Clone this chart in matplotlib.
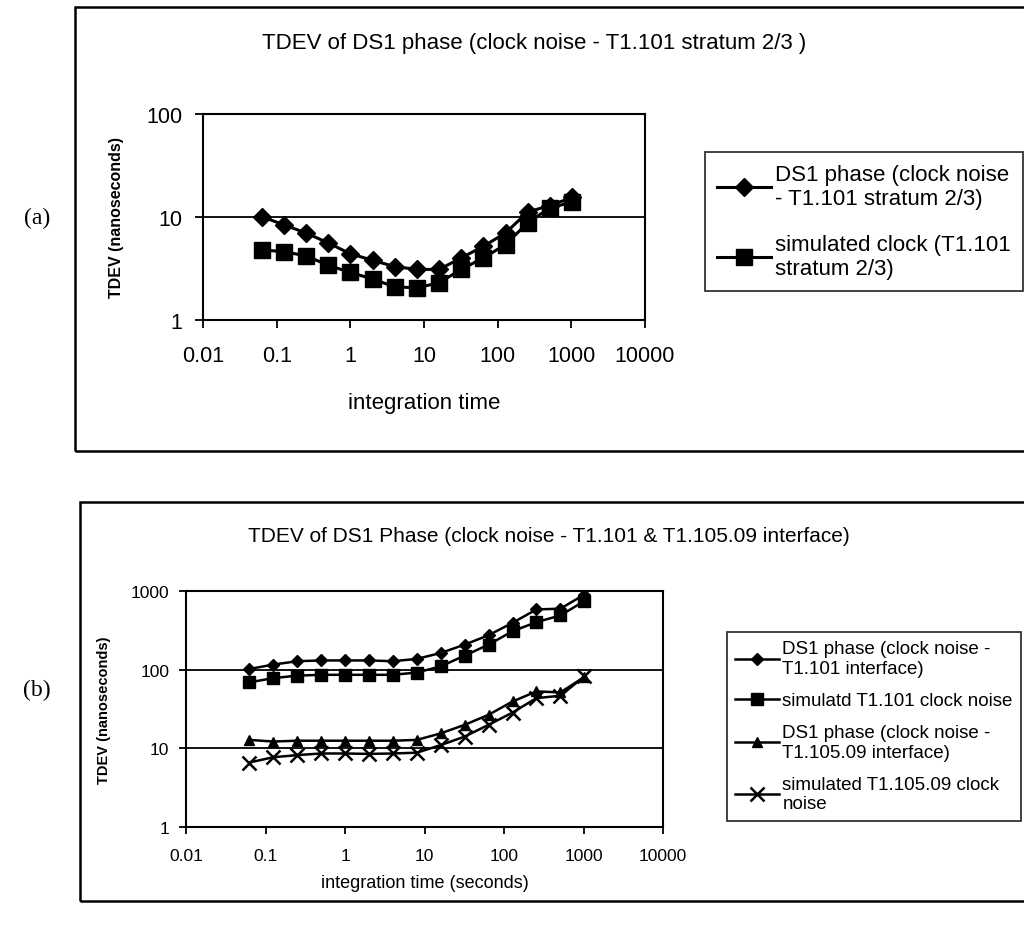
import matplotlib

matplotlib.use("Agg")
import matplotlib.pyplot as plt
from matplotlib.patches import Rectangle

plt.rcParams["font.family"] = ["Liberation Sans", "DejaVu Sans"]

# integration time (s), same sampling for every curve
tau = [0.0625, 0.125, 0.25, 0.5, 1, 2, 4, 8, 16, 32, 64, 128, 256, 512, 1024]

# (a) stratum 2/3
ds1_strat = [10.1, 8.4, 7.0, 5.6, 4.4, 3.8, 3.3, 3.1, 3.1, 4.0, 5.2, 7.0, 11.2, 12.9, 15.5]
sim_strat = [4.8, 4.6, 4.2, 3.4, 2.9, 2.5, 2.1, 2.05, 2.3, 3.1, 4.0, 5.4, 8.8, 12.3, 13.9]

# (b) T1.101 & T1.105.09 interface
ds1_101 = [102, 116, 128, 131, 131, 131, 128, 137, 163, 208, 274, 394, 583, 596, 900]
sim_101 = [69, 78, 84, 86, 86, 86, 86, 92, 110, 151, 208, 308, 402, 489, 745]
ds1_105 = [12.8, 12.2, 12.5, 12.5, 12.5, 12.5, 12.5, 12.8, 15.5, 19.9, 26.7, 39.4, 52.9, 51.4, 80.6]
sim_105 = [6.6, 7.7, 8.2, 8.6, 8.6, 8.5, 8.6, 8.8, 11.0, 14.1, 19.9, 28.5, 43.5, 46.6, 82]

x_ticks = [0.01, 0.1, 1, 10, 100, 1000, 10000]
x_labels = ["0.01", "0.1", "1", "10", "100", "1000", "10000"]

W, H = 1024, 928
fig = plt.figure(figsize=(W / 100, H / 100), dpi=100)


def fx(px):
    return px / W


def fy(py):
    return 1 - py / H


def frame(x0, y0, x1, y1):
    fig.add_artist(
        Rectangle(
            (fx(x0), fy(y1)), fx(x1) - fx(x0), (y1 - y0) / H,
            transform=fig.transFigure, fill=False, edgecolor="black", linewidth=1.8,
        )
    )


def style_axes(ax, yticks, fs, ticklen, xpad, ypad):
    ax.set_xscale("log")
    ax.set_yscale("log")
    ax.set_xlim(0.01, 10000)
    ax.set_ylim(yticks[0], yticks[-1])
    ax.set_xticks(x_ticks, x_labels)
    ax.set_yticks(yticks, [str(v) for v in yticks])
    ax.minorticks_off()
    ax.tick_params(labelsize=fs, length=ticklen, width=1.3, direction="out")
    ax.tick_params(axis="x", pad=xpad)
    ax.tick_params(axis="y", pad=ypad)
    ax.yaxis.grid(True, color="black", linewidth=1.3)
    for s in ax.spines.values():
        s.set_linewidth(1.5)


# ---------------- (a) ----------------
frame(75, 8, 1100, 452)
ax1 = fig.add_axes([fx(203), fy(321), (645 - 203) / W, (321 - 115) / H])
style_axes(ax1, [1, 10, 100], 15.5, 6, 12, 9)
ax1.plot(tau, ds1_strat, color="black", lw=2.2, marker="D", ms=9.5,
         label="DS1 phase (clock noise\n- T1.101 stratum 2/3)")
ax1.plot(tau, sim_strat, color="black", lw=2.2, marker="s", ms=11,
         label="simulated clock (T1.101\nstratum 2/3)")
ax1.set_xlabel("integration time", fontsize=16, labelpad=19)
ax1.set_ylabel("TDEV (nanoseconds)", fontsize=11.5, fontweight="bold", labelpad=16)
fig.text(fx(534), fy(43), "TDEV of DS1 phase (clock noise - T1.101 stratum 2/3 )",
         ha="center", va="center", fontsize=16)
fig.text(fx(37), fy(218), "(a)", ha="center", va="center", fontsize=17,
         family="Liberation Serif")
leg1 = fig.legend(*ax1.get_legend_handles_labels(), loc="upper left",
                  bbox_to_anchor=(fx(705), fy(153)), borderaxespad=0,
                  fontsize=16, frameon=True, fancybox=False, edgecolor="black",
                  handlelength=2.4, handletextpad=0.2, labelspacing=1.1,
                  borderpad=0.55)
leg1.get_frame().set_linewidth(1.3)

# ---------------- (b) ----------------
frame(80, 503, 1100, 902)
ax2 = fig.add_axes([fx(186), fy(828), (663 - 186) / W, (828 - 592) / H])
style_axes(ax2, [1, 10, 100, 1000], 12.5, 5, 10, 7)
ax2.plot(tau, ds1_101, color="black", lw=1.8, marker="D", ms=6.5,
         label="DS1 phase (clock noise -\nT1.101 interface)")
ax2.plot(tau, sim_101, color="black", lw=1.8, marker="s", ms=8,
         label="simulatd T1.101 clock noise")
ax2.plot(tau, ds1_105, color="black", lw=1.8, marker="^", ms=7.5,
         label="DS1 phase (clock noise -\nT1.105.09 interface)")
ax2.plot(tau, sim_105, color="black", lw=1.8, marker="x", ms=10, mew=1.8,
         label="simulated T1.105.09 clock\nnoise")
ax2.set_xlabel("integration time (seconds)", fontsize=13, labelpad=8)
ax2.set_ylabel("TDEV (nanoseconds)", fontsize=10.5, fontweight="bold", labelpad=14)
fig.text(fx(549), fy(537),
         "TDEV of DS1 Phase (clock noise - T1.101 & T1.105.09 interface)",
         ha="center", va="center", fontsize=15)
fig.text(fx(37), fy(690), "(b)", ha="center", va="center", fontsize=17,
         family="Liberation Serif")
leg2 = fig.legend(*ax2.get_legend_handles_labels(), loc="upper left",
                  bbox_to_anchor=(fx(727), fy(633)), borderaxespad=0,
                  fontsize=13.5, frameon=True, fancybox=False, edgecolor="black",
                  handlelength=2.3, handletextpad=0.2, labelspacing=0.8,
                  borderpad=0.45)
leg2.get_frame().set_linewidth(1.3)

fig.savefig("out.png", dpi=100)
